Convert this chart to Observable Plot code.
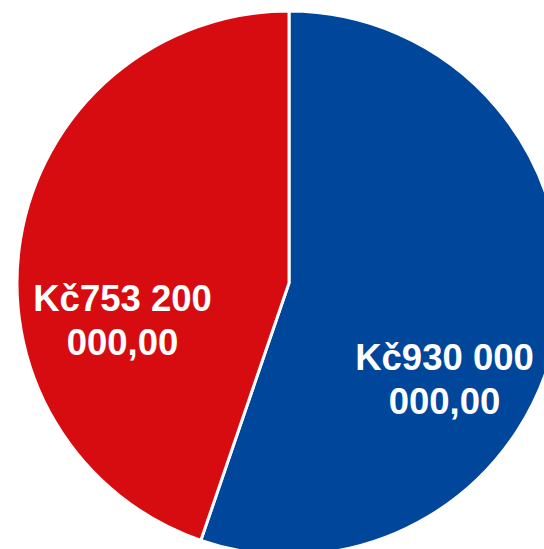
<!DOCTYPE html>
<html>
<head>
<meta charset="utf-8">
<script src="https://cdn.jsdelivr.net/npm/d3@7"></script>
<script src="https://cdn.jsdelivr.net/npm/@observablehq/plot@0.6"></script>
<style>
  html, body { margin: 0; padding: 0; background: #fff; overflow: hidden; }
</style>
</head>
<body>
<div id="chart"></div>
<script>
// Data
const categories = ["A", "B"];
const values = [930000000, 753200000];
const labels = ["Kč930 000\n000,00", "Kč753 200\n000,00"];
const colors = ["#00479B", "#D70C11"];

const pie = d3.pie().sort(null).value(d => d.value);
const arcs = pie(categories.map((c, i) => ({category: c, value: values[i], label: labels[i]})));

// label anchor points in data units (unit circle), derived from slice mid-angles
const labelR = 0.6;
const labelData = arcs.map(a => {
  const mid = (a.startAngle + a.endAngle) / 2;
  return {x: labelR * Math.sin(mid), y: labelR * Math.cos(mid), label: a.data.label, category: a.data.category};
});

function pieMark(index, scales) {
  const cx = scales.x(0), cy = scales.y(0);
  const r = scales.x(1) - scales.x(0);
  const arc = d3.arc().innerRadius(0).outerRadius(r);
  const g = d3.create("svg:g").attr("transform", `translate(${cx},${cy})`);
  g.selectAll("path")
    .data(arcs)
    .join("path")
    .attr("d", arc)
    .attr("fill", d => scales.color(d.data.category))
    .attr("stroke", "#fff")
    .attr("stroke-width", 3)
    .attr("stroke-linejoin", "round");
  return g.node();
}

const textStyle = {
  x: "x",
  y: "y",
  text: "label",
  fill: "#fff",
  fontSize: 36.5,
  fontWeight: "bold",
  fontFamily: "Liberation Sans, Arial, sans-serif",
  lineHeight: 1.2,
  dx: -6
};

const chart = Plot.plot({
  width: 544,
  height: 549,
  margin: 0,
  style: {background: "#fff"},
  x: {domain: [-1, 1], range: [17, 561], axis: null},
  y: {domain: [-1, 1], range: [555, 11], axis: null},
  color: {domain: categories, range: colors},
  marks: [
    pieMark,
    Plot.text(labelData.filter(d => d.category === "A"), {...textStyle, dy: 68}),
    Plot.text(labelData.filter(d => d.category === "B"), {...textStyle, dy: 62})
  ]
});

document.getElementById("chart").appendChild(chart);
</script>
</body>
</html>
